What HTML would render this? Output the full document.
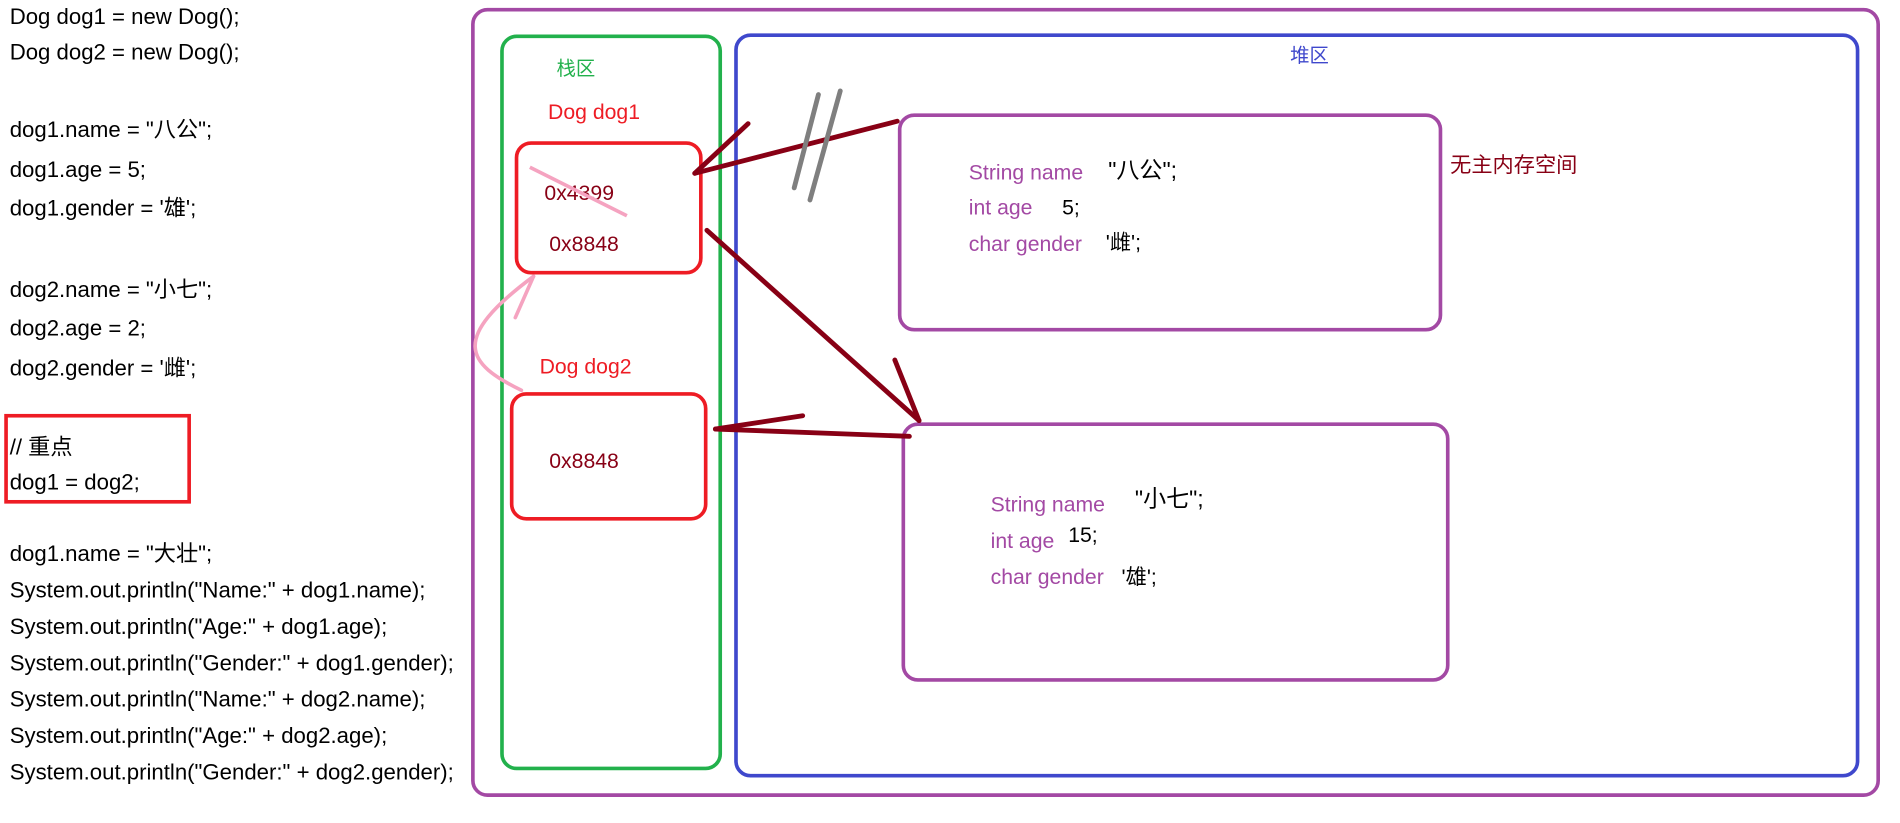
<!DOCTYPE html>
<html><head><meta charset="utf-8"><style>
html,body{margin:0;padding:0;background:#fff;}
svg{display:block;}
text{font-family:"Liberation Sans","Noto Sans CJK SC",sans-serif;}
</style></head><body>
<svg width="1900" height="823" viewBox="0 0 1567 679" preserveAspectRatio="none" xmlns="http://www.w3.org/2000/svg">
<rect width="1567" height="679" fill="#fff"/>
<g font-size="18.3" fill="#000">
<text x="8" y="20">Dog dog1 = new Dog();</text>
<text x="8" y="49">Dog dog2 = new Dog();</text>
<text x="8" y="113">dog1.name = "八公";</text>
<text x="8" y="146">dog1.age = 5;</text>
<text x="8" y="178">dog1.gender = '雄';</text>
<text x="8" y="245">dog2.name = "小七";</text>
<text x="8" y="277">dog2.age = 2;</text>
<text x="8" y="310">dog2.gender = '雌';</text>
<text x="8" y="375">// 重点</text>
<text x="8" y="404">dog1 = dog2;</text>
<text x="8" y="463">dog1.name = "大壮";</text>
<text x="8" y="493">System.out.println("Name:" + dog1.name);</text>
<text x="8" y="523">System.out.println("Age:" + dog1.age);</text>
<text x="8" y="553">System.out.println("Gender:" + dog1.gender);</text>
<text x="8" y="583">System.out.println("Name:" + dog2.name);</text>
<text x="8" y="613">System.out.println("Age:" + dog2.age);</text>
<text x="8" y="643">System.out.println("Gender:" + dog2.gender);</text>
</g>
<rect x="5" y="343" width="151" height="71" fill="none" stroke="#ee1c24" stroke-width="3"/>
<rect x="390" y="8" width="1159" height="648" rx="12" fill="none" stroke="#a349a4" stroke-width="3"/>
<rect x="414" y="30" width="180" height="604" rx="12" fill="none" stroke="#22b14c" stroke-width="3"/>
<rect x="607" y="29" width="925" height="611" rx="12" fill="none" stroke="#3f48cc" stroke-width="3"/>
<rect x="426" y="118" width="152" height="107" rx="12" fill="none" stroke="#ee1c24" stroke-width="3"/>
<rect x="422" y="325" width="160" height="103" rx="12" fill="none" stroke="#ee1c24" stroke-width="3"/>
<rect x="742" y="95" width="446" height="177" rx="12" fill="none" stroke="#a349a4" stroke-width="3"/>
<rect x="745" y="350" width="449" height="211" rx="12" fill="none" stroke="#a349a4" stroke-width="3"/>
<g font-size="17.5">
<text x="459" y="62" fill="#22b14c" font-size="16">栈区</text>
<text x="1064" y="51" fill="#3f48cc" font-size="16">堆区</text>
<text x="452" y="98" fill="#ee1c24">Dog dog1</text>
<text x="449" y="165" fill="#880015">0x4399</text>
<text x="453" y="207" fill="#880015">0x8848</text>
<text x="445" y="308" fill="#ee1c24">Dog dog2</text>
<text x="453" y="386" fill="#880015">0x8848</text>
<text x="1196" y="142" fill="#880015">无主内存空间</text>
<text x="799" y="148" fill="#a349a4">String name</text>
<text x="914" y="147" fill="#000" font-size="19">"八公";</text>
<text x="799" y="177" fill="#a349a4">int age</text>
<text x="876" y="177" fill="#000">5;</text>
<text x="799" y="207" fill="#a349a4">char gender</text>
<text x="912" y="206" fill="#000">'雌';</text>
<text x="817" y="422" fill="#a349a4">String name</text>
<text x="936" y="418" fill="#000" font-size="19">"小七";</text>
<text x="817" y="452" fill="#a349a4">int age</text>
<text x="881" y="447" fill="#000">15;</text>
<text x="817" y="482" fill="#a349a4">char gender</text>
<text x="925" y="482" fill="#000">'雄';</text>
</g>
<line x1="437" y1="138" x2="517" y2="178" stroke="#f5a3c0" stroke-width="3"/>
<g stroke="#880015" stroke-width="4" stroke-linecap="round" fill="none">
<line x1="740" y1="100" x2="573" y2="143"/>
<line x1="617" y1="102" x2="573" y2="143"/>
<line x1="583" y1="190" x2="758" y2="347"/>
<line x1="738" y1="297" x2="758" y2="347"/>
<line x1="750" y1="360" x2="590" y2="354"/>
<line x1="662" y1="343" x2="590" y2="354"/>
</g>
<g stroke="#7f7f7f" stroke-width="4" stroke-linecap="round">
<line x1="655" y1="155" x2="675" y2="78"/>
<line x1="668" y1="165" x2="693" y2="75"/>
</g>
<g stroke="#f5a3c0" stroke-width="3" fill="none" stroke-linecap="round">
<path d="M430,322 C385,300 370,280 440,228"/>
<line x1="440" y1="228" x2="425" y2="262"/>
</g>
</svg>
</body></html>
